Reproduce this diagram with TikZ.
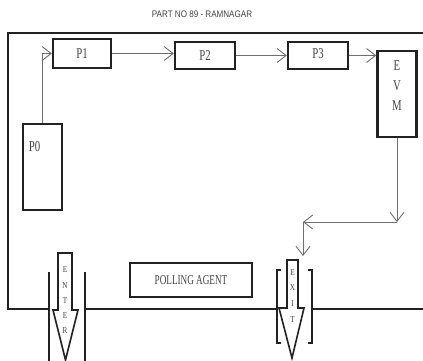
\documentclass[tikz,border=0pt]{standalone}
\usepackage{fontspec}
\setmainfont{Liberation Serif}
\setsansfont{Liberation Sans}
\usetikzlibrary{arrows.meta}
\definecolor{inkc}{HTML}{222222}
\definecolor{txtc}{HTML}{444444}
\definecolor{arrc}{HTML}{6E6E6E}
\newcommand{\cond}[2][0.72]{\scalebox{#1}[1]{#2}}
\tikzset{
  box/.style={draw=inkc, line width=2.4pt, inner sep=0pt, text=txtc,
    font=\fontsize{15}{15}\selectfont},
  arr/.style={draw=arrc, line width=0.9pt, -{Straight Barb[length=9pt,width=14pt,line width=0.9pt]}},
  frame/.style={draw=inkc, line width=2.2pt},
  door/.style={draw=inkc, line width=1.8pt},
  blockarrow/.style={draw=inkc, line width=1.6pt, fill=white, line join=miter},
  letter/.style={text=txtc, inner sep=0pt, font=\fontsize{9}{9}\selectfont},
}
\begin{document}
\begin{tikzpicture}[x=1pt,y=-1pt]
\useasboundingbox (0,0) rectangle (423,360);
% title
\node[text=txtc, font=\sffamily\fontsize{9.5}{9.5}\selectfont] (title) at (202,14) {\cond[0.85]{PART NO 89 - RAMNAGAR}};
% frame
\draw[frame] (424,33) -- (8,33) -- (8,309) -- (49,309);
\draw[frame] (85,309) -- (277,309);
\draw[frame] (312,309) -- (424,309);
% boxes
\node[box, minimum width=58pt, minimum height=29pt] (P1) at (82,53.5) {\cond{P1}};
\node[box, minimum width=60pt, minimum height=27pt] (P2) at (205,55.5) {\cond{P2}};
\node[box, minimum width=60pt, minimum height=27pt] (P3) at (318,55.5) {\raisebox{3pt}{\cond{P3}}};
\node[box, minimum width=39pt, minimum height=86pt,
  label={[anchor=north, yshift=-11pt, inner sep=0pt, text=txtc, font=\fontsize{15}{20}\selectfont, align=center]north:{\cond{E}\\\cond{V}\\\cond{M}}}] (EVM) at (397,94) {};
\node[box, minimum width=39pt, minimum height=86pt,
  label={[anchor=center, xshift=-8pt, yshift=20pt, inner sep=0pt, text=txtc, font=\fontsize{15}{15}\selectfont]center:{\cond{P0}}}] (P0) at (42.5,167) {};
\node[box, minimum width=122pt, minimum height=34pt, font=\fontsize{13.5}{13.5}\selectfont] (PA) at (191,280) {\cond[0.68]{POLLING AGENT}};
% connectors
\draw[arr] (P0.north) |- (P1.west);
\draw[arr] (P1.east) -- (P1.east -| P2.west);
\draw[arr] (P2.east) -- (P2.east -| P3.west);
\draw[arr] (P3.east) -- (P3.east -| EVM.west);
\coordinate (c1) at (397,222);
\coordinate (c2) at (303,222);
\coordinate (c3) at (303,256);
\draw[arr] (EVM.south) -- (c1);
\draw[arr] (c1) -- (c2);
\draw[arr] (c2) -- (c3);
% enter door
\draw[door] (49,272) -- (49,361);
\draw[door] (85,272) -- (85,361);
\draw[blockarrow] (58,253) -- (72,253) -- (72,310) -- (78,310) -- (65.5,360) -- (53,310) -- (58,310) -- cycle;
\node[letter] (en1) at (65,270) {\cond[0.8]{E}};
\node[letter] (en2) at (65,286) {\cond[0.8]{N}};
\node[letter] (en3) at (65,301) {\cond[0.8]{T}};
\node[letter] (en4) at (65,316) {\cond[0.8]{E}};
\node[letter] (en5) at (65,331) {\cond[0.8]{R}};
% exit door
\draw[door] (281,270) -- (277,270) -- (277,343) -- (281,343);
\draw[door] (308,270) -- (312,270) -- (312,343) -- (308,343);
\draw[blockarrow] (287,260) -- (298,260) -- (298,308) -- (304,308) -- (292,358) -- (279,308) -- (287,308) -- cycle;
\node[letter] (ex1) at (292.5,273) {\cond[0.8]{E}};
\node[letter] (ex2) at (292.5,288) {\cond[0.8]{X}};
\node[letter] (ex3) at (292.5,304) {\cond[0.8]{I}};
\node[letter] (ex4) at (292.5,320) {\cond[0.8]{T}};
\end{tikzpicture}
\end{document}
